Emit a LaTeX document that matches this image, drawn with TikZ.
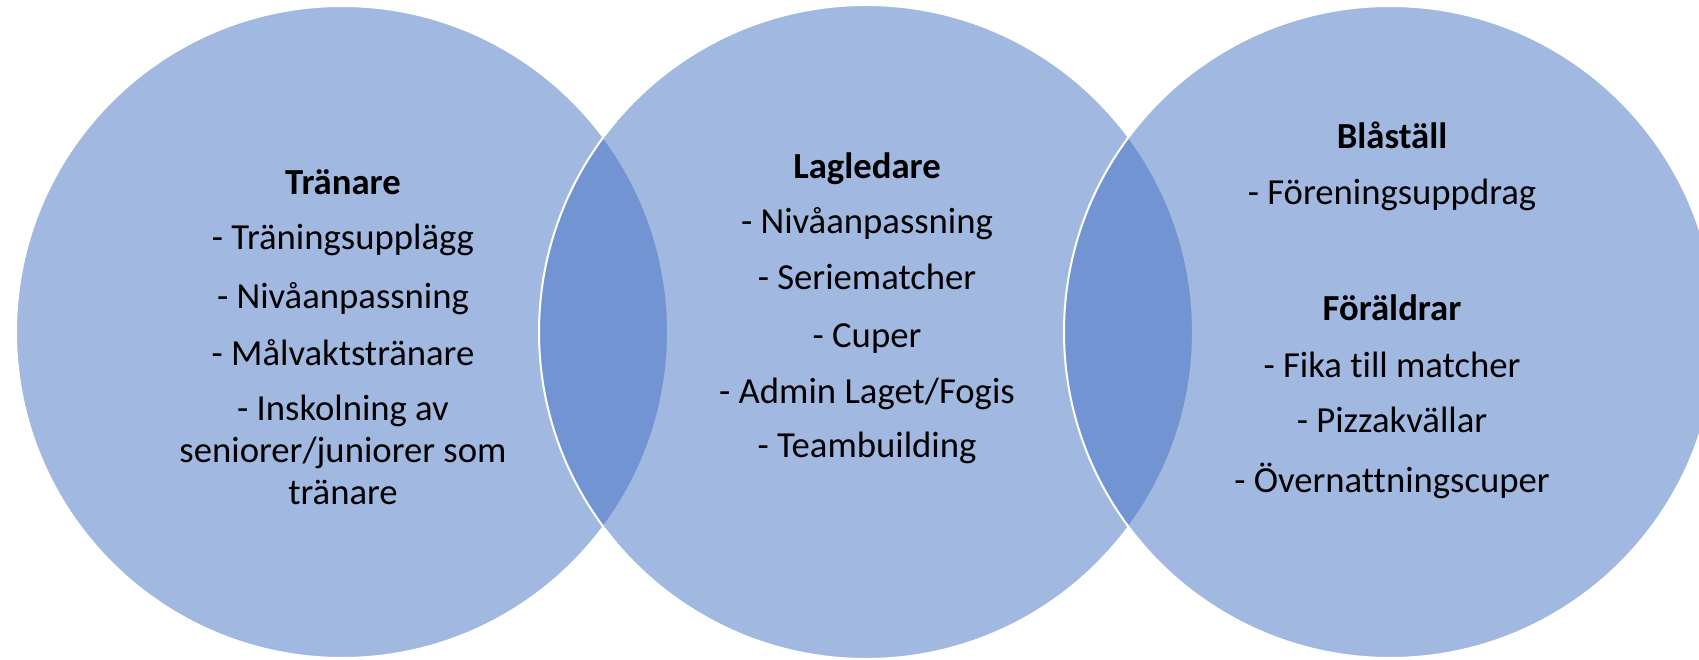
\documentclass[tikz,border=0pt]{standalone}
\usepackage{fontspec}
\setmainfont[Ligatures=NoCommon,RawFeature=-liga]{Carlito}
\definecolor{vblue}{HTML}{4472C4}
\tikzset{
  venn/.style={fill=vblue, fill opacity=0.5, draw=white, draw opacity=1, line width=2pt},
  lbl/.style={anchor=base, inner sep=0pt, text=black, font=\fontsize{36.7}{42}\selectfont},
  hdr/.style={lbl, font=\fontsize{36.7}{42}\selectfont\bfseries}
}
\begin{document}
\begin{tikzpicture}[x=1pt,y=-1pt]
\useasboundingbox (0,0) rectangle (1699,660);
\clip (0,0) rectangle (1699,660);
\fill[white] (0,0) rectangle (1699,660);
\draw[venn] (342,332) circle[radius=326];
\draw[venn] (866,332) circle[radius=327];
\draw[venn] (1390,332) circle[radius=326];
% left
\node[hdr] (t0) at (343,195) {Tränare};
\node[lbl] (t1) at (343,250) {- Träningsupplägg};
\node[lbl] (t2) at (343,308) {- Nivåanpassning};
\node[lbl] (t3) at (343,365) {- Målvaktstränare};
\node[lbl] (t4) at (343,420) {- Inskolning av};
\node[lbl] (t5) at (343,462) {seniorer/juniorer som};
\node[lbl] (t6) at (343,504) {tränare};
% middle
\node[hdr] (m0) at (867,179) {Lagledare};
\node[lbl] (m1) at (867,234) {- Nivåanpassning};
\node[lbl] (m2) at (867,290) {- Seriematcher};
\node[lbl] (m3) at (867,347) {- Cuper};
\node[lbl] (m4) at (867,403) {- Admin Laget/Fogis};
\node[lbl] (m5) at (867,457) {- Teambuilding};
% right
\node[hdr] (r0) at (1392,149) {Blåställ};
\node[lbl] (r1) at (1392,205) {- Föreningsuppdrag};
\node[hdr] (r2) at (1392,320) {Föräldrar};
\node[lbl] (r3) at (1392,377) {- Fika t\kern0pt ill matcher};
\node[lbl] (r4) at (1392,432) {- Pizzakvällar};
\node[lbl] (r5) at (1392,492) {- Övernattningscuper};
\end{tikzpicture}
\end{document}
